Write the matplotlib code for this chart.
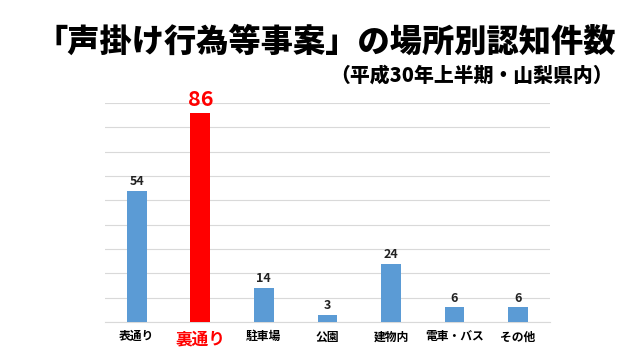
import matplotlib.pyplot as plt

plt.rcParams['font.family'] = ['Noto Sans CJK JP', 'DejaVu Sans']

places = ['表通り', '裏通り', '駐車場', '公園', '建物内', '電車・バス', 'その他']
counts = [54, 86, 14, 3, 24, 6, 6]
highlight = '裏通り'

blue = '#5B9BD5'
red = '#FF0000'

fig = plt.figure(figsize=(6.4, 3.59), dpi=100)
ax = fig.add_axes([0.164, 0.103, 0.695, 0.61])

colors = [red if p == highlight else blue for p in places]
x = range(len(places))
bars = ax.bar(x, counts, width=0.31, color=colors, zorder=3)

for xi, p, c in zip(x, places, counts):
    if p == highlight:
        ax.text(xi, c + 1.2, str(c), ha='center', va='bottom', color=red,
                fontsize=15.5, fontweight='bold')
    else:
        ax.text(xi, c + 1.2, str(c), ha='center', va='bottom', color='#222222',
                fontsize=9, fontweight='bold')

ax.set_xlim(-0.5, len(places) - 0.5)
ax.set_ylim(0, 90)
ax.set_yticks(range(0, 91, 10))
ax.set_yticklabels([])
ax.tick_params(axis='y', length=0)
ax.tick_params(axis='x', length=0, pad=6)
ax.set_xticks(list(x))
ax.set_xticklabels(places, fontweight='bold', fontsize=8.5)
for lbl, p in zip(ax.get_xticklabels(), places):
    if p == highlight:
        lbl.set_color(red)
        lbl.set_fontsize(12)
ax.grid(axis='y', color='#D9D9D9', linewidth=0.8, zorder=0)
for s in ['top', 'right', 'left']:
    ax.spines[s].set_visible(False)
ax.spines['bottom'].set_color('#D9D9D9')

fig.text(0.509, 0.883, '「声掛け行為等事案」の場所別認知件数', ha='center', va='center',
         fontsize=23.2, fontweight='black')
fig.text(0.957, 0.79, '（平成30年上半期・山梨県内）', ha='right', va='center',
         fontsize=14.3, fontweight='black')

fig.savefig('out.png', dpi=100)
